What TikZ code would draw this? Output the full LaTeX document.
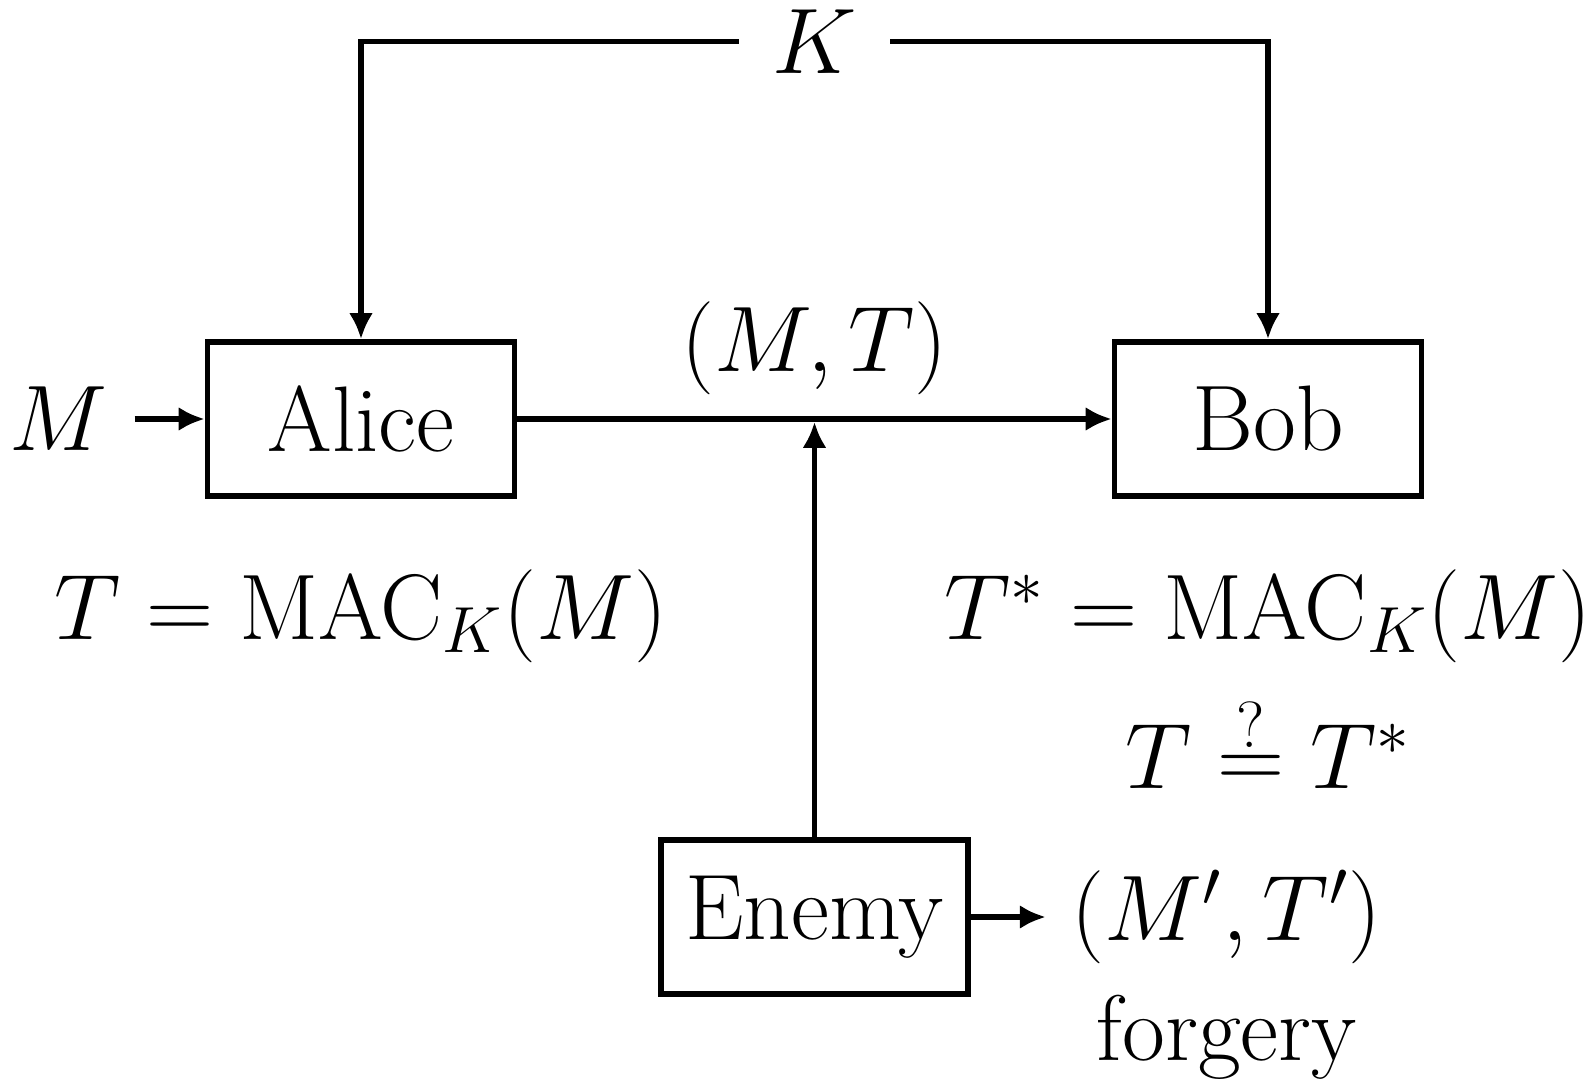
\RequirePackage{fix-cm}
\documentclass[tikz,border=0pt]{standalone}
\usepackage{tikz}
\usetikzlibrary{
    arrows.meta,
    positioning
}
\tikzset{
    % Boxes for the three parties
    party/.style={
        draw,
        rectangle,
        line width=1.6pt,
        minimum width=3.07cm,
        minimum height=1.54cm,
    },
    % Formulas, placed by their baseline
    formula/.style={
        anchor=base,
        inner sep=0pt,
    },
    % Arrow style
    arrow/.style={
        -{Latex[length=2.6mm, width=2.4mm]},
        line width=1.6pt,
    },
}

\begin{document}
\begin{tikzpicture}[font=\fontsize{26.5}{32}\selectfont]
    \useasboundingbox (0,0) rectangle (15.88,-10.80);

    \node (alice) [party] at (3.61,-4.19) {Alice};
    \node (bob) [party] at (12.68,-4.19) {Bob};
    \node (enemy) [party] at (8.145,-9.17) {Enemy};
    \node (key) [minimum width=1.5cm] at (8.145,-0.415) {$K$};
    \node (msg) [left=0.7cm of alice, inner xsep=0.27cm] {$M$};
    \node (forged) [right=0.75cm of enemy, inner xsep=0.25cm] {$(M',T')$};
    \node (forgery) [below=0.18cm of forged, inner sep=0pt] {forgery};
    \node (tagA) [formula] at (3.61,-6.39) {$T = \mathrm{MAC}_K(M)$};
    \node (tagB) [formula] at (12.68,-6.39) {$T^* = \mathrm{MAC}_K(M)$};
    \node (check) [formula] at (12.68,-7.88) {$T \stackrel{?}{=} T^*$};
    \coordinate (tap) at (enemy |- alice);

    \draw [arrow] (key.west) -| (alice);
    \draw [arrow] (key.east) -| (bob);
    \draw [arrow] (msg) -- (alice);
    \draw [arrow] (alice) -- node (pair) [above=1mm] {$(M,T)$} (bob);
    \draw [arrow, shorten >=0.8pt] (enemy) -- (tap);
    \draw [arrow] (enemy) -- (forged);
\end{tikzpicture}
\end{document}
